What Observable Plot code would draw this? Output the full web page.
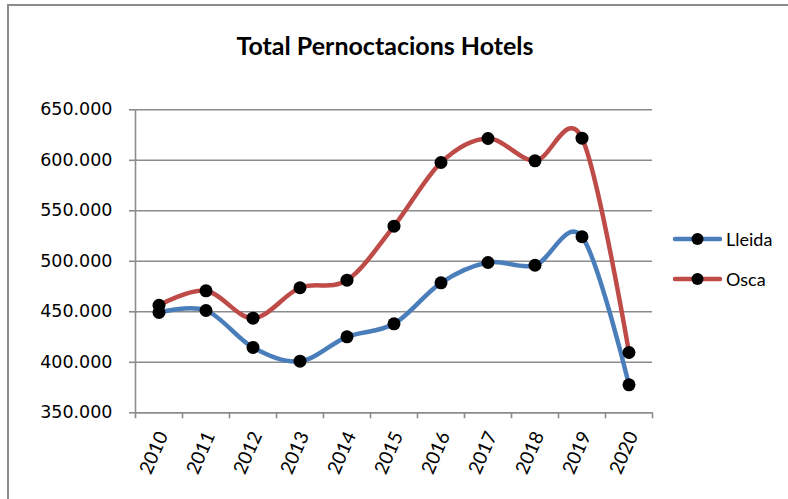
<!DOCTYPE html>
<html><head><meta charset="utf-8">
<script src="https://cdn.jsdelivr.net/npm/d3@7"></script>
<script src="https://cdn.jsdelivr.net/npm/@observablehq/plot@0.6"></script>
<style>
body{margin:0;background:#fff;overflow:hidden;}
#wrap{position:relative;width:788px;height:499px;overflow:hidden;background:#fff;}
#frame{position:absolute;left:7px;top:4px;width:900px;height:600px;border:2px solid #8c8c8c;box-sizing:border-box;}
#title{position:absolute;left:0;top:29px;width:770px;text-align:center;font:bold 25px Lato, "Open Sans", sans-serif;color:#000;line-height:32px;}
.item{position:absolute;left:672px;height:20px;display:flex;align-items:center;font:18px Lato, sans-serif;color:#000;line-height:20px;}
.item svg{margin-right:4px;display:block;}
#chart{position:absolute;left:0;top:0;}
</style></head>
<body>
<div id="wrap">
  <div id="frame"></div>
  <div id="chart"></div>
  <div id="title"></div>
  <div id="legend"></div>
</div>
<script>
const titleText = "Total Pernoctacions Hotels";
const years = [2010, 2011, 2012, 2013, 2014, 2015, 2016, 2017, 2018, 2019, 2020];
const seriesNames = ["Lleida", "Osca"];
const lleida = [449300, 451300, 414700, 401100, 425200, 438100, 478700, 498800, 496100, 524300, 377700];
const osca   = [456500, 470800, 443700, 473800, 481300, 534800, 597800, 621600, 599500, 621900, 409700];
const yTicks = [350000, 400000, 450000, 500000, 550000, 600000, 650000];
const seriesColors = ["#4A7EBB", "#BE4B48"];

const values = [lleida, osca];
const data = [];
seriesNames.forEach((s, i) => years.forEach((y, j) => data.push({series: s, year: y, value: values[i][j]})));
// category band edges (ticks sit between categories)
const edges = [years[0] - 0.5, ...years.map(y => y + 0.5)];

const loc = d3.formatLocale({decimal: ",", thousands: ".", grouping: [3], currency: ["", ""]});
const fmt = loc.format(",d");
const grey = "#8c8c8c";

const chart = Plot.plot({
  width: 788, height: 499,
  marginLeft: 135, marginRight: 136, marginTop: 109.3, marginBottom: 86.7,
  style: {background: "transparent", color: "#000", overflow: "visible"},
  x: {type: "linear", domain: [edges[0], edges[edges.length - 1]]},
  y: {domain: [yTicks[0], yTicks[yTicks.length - 1]]},
  color: {domain: seriesNames, range: seriesColors},
  marks: [
    Plot.gridY(yTicks, {stroke: grey, strokeOpacity: 1, strokeWidth: 1.6}),
    Plot.ruleX([edges[0]], {stroke: grey, strokeWidth: 1.6}),
    Plot.ruleY([yTicks[0]], {stroke: grey, strokeWidth: 1.6}),
    Plot.axisY(yTicks, {tickSize: 6, tickPadding: 17, tickFormat: fmt, stroke: grey, strokeWidth: 1.6,
      fontSize: 17.5, fontFamily: "DejaVu Sans", fill: "#000", label: null}),
    Plot.axisX(edges, {tickSize: 6, tickFormat: () => "", stroke: grey, strokeWidth: 1.6, label: null}),
    Plot.axisX(years, {tickSize: 0, tickPadding: 20, tickRotate: -66, tickFormat: d => String(d),
      fontSize: 19, fontFamily: "Lato", fill: "#000", dx: 4, label: null}),
    Plot.line(data, {x: "year", y: "value", z: "series", stroke: "series", curve: "cardinal", strokeWidth: 4.5}),
    Plot.dot(data, {x: "year", y: "value", r: 6.5, fill: "#000"})
  ]
});
document.getElementById("chart").appendChild(chart);
document.getElementById("title").textContent = titleText;

const legend = document.getElementById("legend");
seriesNames.forEach((s, i) => {
  const item = document.createElement("div");
  item.className = "item";
  item.style.top = (229 + i * 40) + "px";
  item.innerHTML = `<svg width="50" height="14"><line x1="3" x2="48" y1="7" y2="7" stroke="${seriesColors[i]}" stroke-width="4.5" stroke-linecap="round"/><circle cx="25.5" cy="7" r="6" fill="#000"/></svg><span>${s}</span>`;
  legend.appendChild(item);
});
</script>
</body></html>
